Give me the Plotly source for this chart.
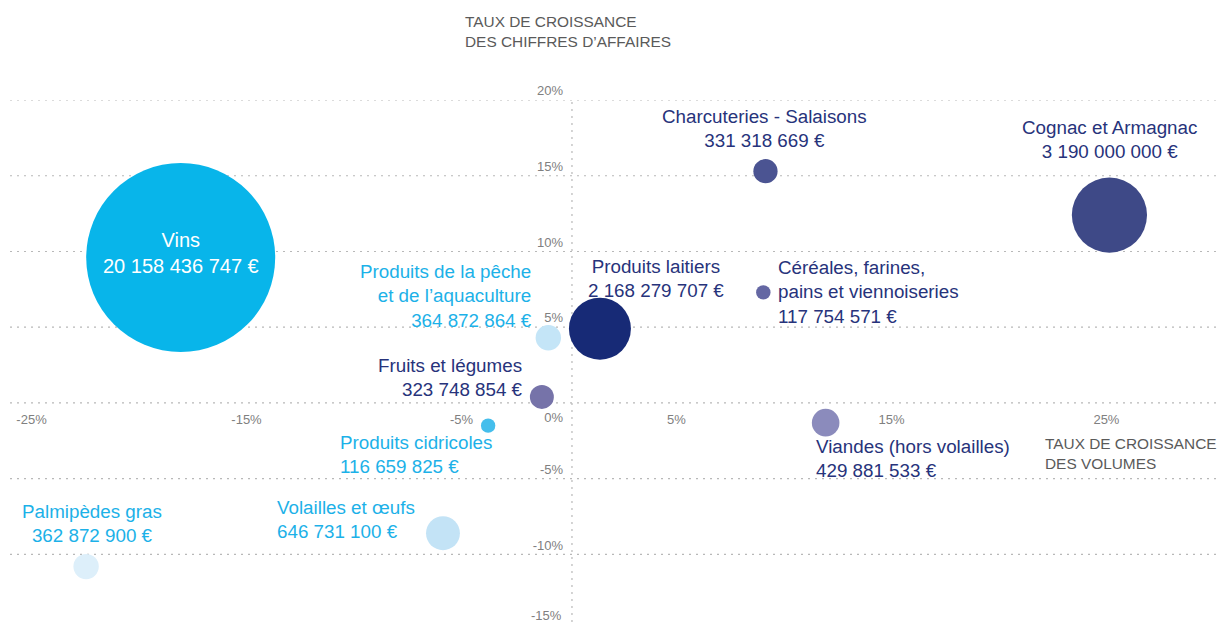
import plotly.graph_objects as go

# ---------------- data ----------------
categories = [
    "Vins",
    "Cognac et Armagnac",
    "Charcuteries - Salaisons",
    "Céréales, farines,<br>pains et viennoiseries",
    "Produits laitiers",
    "Produits de la pêche<br>et de l’aquaculture",
    "Fruits et légumes",
    "Produits cidricoles",
    "Viandes (hors volailles)",
    "Volailles et œufs",
    "Palmipèdes gras",
]
chiffre_affaires = [20158436747, 3190000000, 331318669, 117754571, 2168279707,
                    364872864, 323748854, 116659825, 429881533, 646731100, 362872900]
croissance_volumes = [-18.2, 25.0, 9.0, 8.9, 1.3, -1.1, -1.4, -3.9, 11.8, -6.0, -22.6]
croissance_ca = [9.6, 12.4, 15.3, 7.3, 4.9, 4.3, 0.4, -1.5, -1.3, -8.6, -10.8]

x_ticks = [-25, -15, -5, 5, 15, 25]
y_ticks = [20, 15, 10, 5, -5, -10, -15]
y_grid = [20, 15, 10, 5, 0, -5, -10, -15]

# ---------------- styles ----------------
FONT = "Liberation Sans, Arial, sans-serif"
NAVY = "#27337b"
CYAN = "#1cb1e8"
GRID = "#b8b8b8"
TICK = "#808080"
TITLE = "#5a5a5a"
DOTS = "2px,5px"

bubble_colors = ["#08b5ea", "#3e4987", "#4b5492", "#6467a3", "#172a76", "#c4e5f7",
                 "#7673a9", "#45beec", "#8b8bbc", "#c3e3f6", "#ddeffa"]

# label placement: (anchor, xshift, yshift, colour, font size)
label_cfg = [
    ("center", 0, 5, "white", 20),
    ("center", 0, 76, NAVY, 18.8),
    ("center", -1, 43, NAVY, 18.8),
    ("left", 13, 0, NAVY, 18.8),
    ("center", 56, 50, NAVY, 18.8),
    ("right", -14, 42, CYAN, 18.8),
    ("right", -17, 19, NAVY, 18.8),
    ("left", -150, -29, CYAN, 18.8),
    ("left", -12, -36, NAVY, 18.8),
    ("left", -168, 14, CYAN, 18.8),
    ("center", 6, 43, CYAN, 18.8),
]

X_RANGE = [-26.14, 30.05]
Y_RANGE = [-14.46, 20]
MAX_DIAM = 189
NBSP = "\u00a0"


def euros(v):
    return f"{v:,}".replace(",", " ") + " €"


def pct(v):
    return f"{v}%"


fig = go.Figure()

fig.add_trace(go.Scatter(
    x=croissance_volumes, y=croissance_ca, mode="markers",
    marker=dict(size=chiffre_affaires, sizemode="area",
                sizeref=2 * max(chiffre_affaires) / MAX_DIAM ** 2,
                color=bubble_colors, line=dict(width=0), opacity=1),
    text=[c.replace("<br>", " ") for c in categories],
    hoverinfo="text", cliponaxis=False, showlegend=False,
))

# y tick labels (on the value scale, at x = 0, just above each gridline)
visible_ticks = [v for v in y_ticks if Y_RANGE[0] <= v <= Y_RANGE[1]]
below_ticks = [v for v in y_ticks if v < Y_RANGE[0]]
fig.add_trace(go.Scatter(
    x=[0] * len(visible_ticks), y=visible_ticks, mode="markers+text",
    text=[pct(v) + NBSP * 2 for v in visible_ticks],
    textposition="top left",
    marker=dict(size=1, opacity=0),
    textfont=dict(family=FONT, size=13, color=TICK),
    cliponaxis=False, hoverinfo="skip", showlegend=False,
))
# origin label
fig.add_trace(go.Scatter(
    x=[0], y=[0], mode="markers+text", text=["0%"], textposition="bottom left",
    marker=dict(size=12.8, opacity=0),
    textfont=dict(family=FONT, size=13, color=TICK),
    cliponaxis=False, hoverinfo="skip", showlegend=False,
))

annotations = []
for name, val, xv, yv, cfg in zip(categories, chiffre_affaires,
                                  croissance_volumes, croissance_ca, label_cfg):
    anchor, dx, dy, col, fs = cfg
    annotations.append(dict(
        x=xv, y=yv, xref="x", yref="y", showarrow=False,
        text=f"{name}<br>{euros(val)}",
        xanchor=anchor, yanchor="middle", align=anchor,
        xshift=dx, yshift=dy,
        font=dict(family=FONT, size=fs, color=col),
    ))

# tick labels whose gridline falls just below the visible window: pinned to the bottom edge
for v in below_ticks:
    annotations.append(dict(
        xref="x", x=0, yref="paper", y=0, xanchor="right", yanchor="bottom",
        xshift=-8, yshift=-3, showarrow=False, text=pct(v),
        font=dict(family=FONT, size=13, color=TICK),
    ))

annotations.append(dict(
    xref="x", x=0, yref="paper", y=1, xanchor="left", yanchor="middle",
    xshift=-109, yshift=69, align="left", showarrow=False,
    text="TAUX DE CROISSANCE<br>DES CHIFFRES D’AFFAIRES",
    font=dict(family=FONT, size=15.4, color=TITLE),
))
annotations.append(dict(
    xref="paper", x=1, yref="y", y=0, xanchor="right", yanchor="middle",
    xshift=1, yshift=-51, align="left", showarrow=False,
    text="TAUX DE CROISSANCE<br>DES VOLUMES",
    font=dict(family=FONT, size=15.4, color=TITLE),
))

shapes = [dict(type="line", xref="x", yref="paper", x0=0, x1=0, y0=0, y1=1,
               line=dict(color=GRID, width=1.2, dash=DOTS), layer="below")]
for g in y_grid:
    shapes.append(dict(type="line", xref="paper", yref="y", x0=0, x1=1, y0=g, y1=g,
                       line=dict(color=GRID, width=1.2, dash=DOTS), layer="below"))

fig.update_layout(
    width=1218, height=622,
    margin=dict(l=10, r=0, t=100, b=0),
    paper_bgcolor="white", plot_bgcolor="white",
    font=dict(family=FONT),
    annotations=annotations,
    shapes=shapes,
    xaxis=dict(
        range=X_RANGE, anchor="free",
        position=(0 - Y_RANGE[0]) / (Y_RANGE[1] - Y_RANGE[0]),
        tickmode="array", tickvals=x_ticks, ticktext=[pct(v) for v in x_ticks],
        showgrid=False, zeroline=False, showline=False, ticks="",
        tickfont=dict(family=FONT, size=13, color=TICK),
        ticklabelshift=-3, ticklabelstandoff=7, fixedrange=True,
    ),
    yaxis=dict(
        range=Y_RANGE, showticklabels=False, showgrid=False,
        zeroline=False, showline=False, ticks="", fixedrange=True,
    ),
)

fig.write_html("out.html")
